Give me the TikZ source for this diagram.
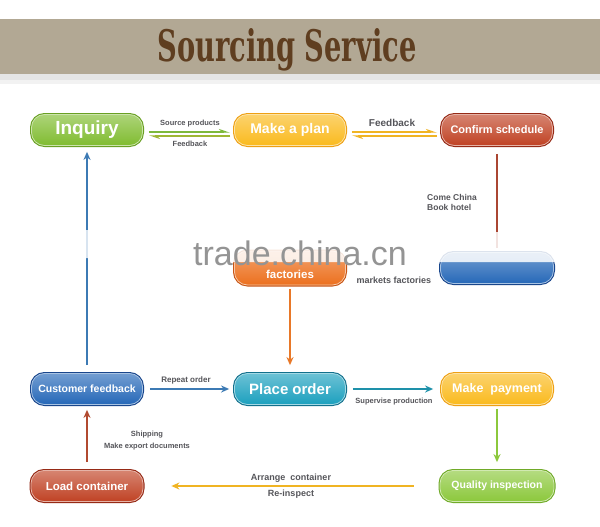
\documentclass[tikz,border=0pt]{standalone}
\usepackage{fontspec}
\setmainfont{Liberation Sans}
\newfontfamily\titlefont{DejaVu Serif}
\usetikzlibrary{arrows.meta}

\definecolor{bannerc}{RGB}{178,168,148}
\definecolor{titlec}{RGB}{95,62,32}
\definecolor{labelc}{RGB}{85,85,90}
\definecolor{grn}{RGB}{128,188,48}
\definecolor{grnD}{RGB}{105,160,35}
\definecolor{ylw}{RGB}{250,186,30}
\definecolor{ylwD}{RGB}{238,160,20}
\definecolor{redc}{RGB}{192,66,36}
\definecolor{redD}{RGB}{150,42,22}
\definecolor{orc}{RGB}{236,112,30}
\definecolor{orD}{RGB}{200,85,20}
\definecolor{blu}{RGB}{38,104,184}
\definecolor{bluD}{RGB}{25,70,140}
\definecolor{teal}{RGB}{28,160,190}
\definecolor{tealD}{RGB}{18,112,140}
\definecolor{lgrn}{RGB}{140,200,60}
\definecolor{lgrnD}{RGB}{112,170,40}
\definecolor{arGrn}{RGB}{125,185,60}
\definecolor{arYlw}{RGB}{240,180,35}
\definecolor{arRed}{RGB}{170,70,50}
\definecolor{arBlu}{RGB}{60,122,180}
\definecolor{arTeal}{RGB}{30,145,170}
\definecolor{arOr}{RGB}{232,120,40}

\tikzset{
  pill/.style={rectangle, rounded corners=13pt, minimum width=111pt, minimum height=31pt,
    inner sep=1pt, text=white, font=\bfseries, align=center, line width=0.8pt},
  pillc/.style n args={3}{pill, top color=#1!65!white, bottom color=#1, draw=#1!40!white,
    preaction={draw=#2, line width=3pt}},
  lbl/.style={text=labelc, font=\bfseries, inner sep=0pt},
  conn/.style={line width=1.6pt, -{Stealth[length=8pt,width=7pt]}},
  harp/.style={line width=1.4pt, -{Stealth[length=9pt,width=6pt,harpoon]}},
}

\begin{document}
\begin{tikzpicture}[x=1pt,y=-1pt]
\useasboundingbox (0,0) rectangle (600,527);
\fill[white] (0,0) rectangle (600,527);

% banner
\fill[black!10] (0,74) rectangle (600,80);
\fill[black!5] (0,80) rectangle (600,84);
\fill[bannerc] (0,19) rectangle (600,74);
\node[anchor=base, inner sep=0pt, text=titlec] (title) at (287,62)
  {\resizebox{259pt}{33pt}{\titlefont\bfseries Sourcing Service}};

% nodes
\node[pillc={grn}{grnD}{}, font=\bfseries\fontsize{19}{21}\selectfont] (inq) at (87,130) {Inquiry};
\node[pillc={ylw}{ylwD}{}, font=\bfseries\fontsize{14}{16}\selectfont] (plan) at (290,130) {Make a plan};
\node[pillc={redc}{redD}{}, font=\bfseries\fontsize{11}{13}\selectfont] (conf) at (497,130) {Confirm schedule};
\node[pillc={orc}{orD}{}, minimum height=34pt, font=\bfseries\fontsize{11.5}{13}\selectfont] (fact) at (290,268) {\raisebox{-10pt}[0pt][0pt]{factories}};
\node[pillc={blu}{bluD}{}, minimum width=113pt] (imp) at (497,268) {};
\node[pillc={blu}{bluD}{}, font=\bfseries\fontsize{10.5}{12}\selectfont] (cust) at (87,389) {Customer feedback};
\node[pillc={teal}{tealD}{}, font=\bfseries\fontsize{15}{17}\selectfont] (place) at (290,389) {Place order};
\node[pillc={ylw}{ylwD}{}, font=\bfseries\fontsize{12.5}{14}\selectfont] (pay) at (497,389) {Make\ \ payment};
\node[pillc={lgrn}{lgrnD}{}, minimum width=114pt, font=\bfseries\fontsize{10.5}{12}\selectfont] (qual) at (497,486) {Quality inspection};
\node[pillc={redc}{redD}{}, minimum width=112pt, font=\bfseries\fontsize{11.5}{13}\selectfont] (load) at (87,486) {Load container};

% connectors
\draw[harp, draw=arGrn, shorten <=6pt, shorten >=4pt] ([yshift=-2pt]inq.east) -- ([yshift=-2pt]plan.west);
\draw[harp, draw=arGrn!70!arYlw, shorten <=4pt, shorten >=6pt] ([yshift=-6pt]plan.west) -- ([yshift=-6pt]inq.east);
\draw[harp, draw=arYlw, shorten <=6pt, shorten >=4pt] ([yshift=-2pt]plan.east) -- ([yshift=-2pt]conf.west);
\draw[harp, draw=arYlw, shorten <=4pt, shorten >=6pt] ([yshift=-6pt]conf.west) -- ([yshift=-6pt]plan.east);

\draw[line width=1.4pt, draw=arRed, shorten <=8pt, shorten >=4pt] (conf.south) -- (imp.north);
\draw[conn, draw=arOr, shorten <=4pt, shorten >=8pt] (fact.south) -- (place.north);
\draw[conn, draw=arBlu, shorten <=8pt, shorten >=6pt] (cust.north) -- (inq.south);
\draw[conn, draw=arBlu, shorten <=7pt, shorten >=5pt] (cust.east) -- (place.west);
\draw[conn, draw=arTeal, shorten <=7pt, shorten >=8pt] (place.east) -- (pay.west);
\draw[conn, draw=lgrn, shorten <=4pt, shorten >=8pt] (pay.south) -- (qual.north);
\draw[conn, draw=arYlw, shorten <=26pt, shorten >=28pt] (qual.west) -- (load.east);
\draw[conn, draw=arRed!90!orc, shorten <=8pt, shorten >=5pt] (load.north) -- (cust.south);

% labels
\node[lbl, font=\bfseries\fontsize{7.5}{8.5}\selectfont] (l1) at (190,124) {Source products};
\node[lbl, font=\bfseries\fontsize{7.5}{8.5}\selectfont] (l2) at (190,144) {Feedback};
\node[lbl, font=\bfseries\fontsize{10}{11}\selectfont] (l3) at (392,123) {Feedback};
\node[lbl, font=\bfseries\fontsize{8.5}{10}\selectfont, align=left, anchor=west] (l4) at (427,202) {Come China\\Book hotel};
\node[lbl, font=\bfseries\fontsize{9}{10}\selectfont] (l5) at (394,280) {markets factories};
\node[lbl, font=\bfseries\fontsize{8}{9}\selectfont] (l6) at (186,380) {Repeat order};
\node[lbl, font=\bfseries\fontsize{7.5}{8.5}\selectfont] (l7) at (394,402) {Supervise production};
\node[lbl, font=\bfseries\fontsize{7.5}{8.5}\selectfont] (l8) at (147,435) {Shipping};
\node[lbl, font=\bfseries\fontsize{7.5}{8.5}\selectfont] (l9) at (147,447) {Make export documents};
\node[lbl, font=\bfseries\fontsize{9}{10}\selectfont] (l10) at (291,478) {Arrange\ \ container};
\node[lbl, font=\bfseries\fontsize{9}{10}\selectfont] (l11) at (291,494) {Re-inspect};

% watermark haze
\fill[white, opacity=0.85, rounded corners=6pt] (182,232) rectangle (560,262);
\fill[white, opacity=0.8, rounded corners=6pt] (78,230) rectangle (98,258);
\node[anchor=base, inner sep=0pt, text=black!42, font=\fontsize{34}{36}\selectfont] (wm) at (300,265) {trade.china.cn};
\end{tikzpicture}
\end{document}
